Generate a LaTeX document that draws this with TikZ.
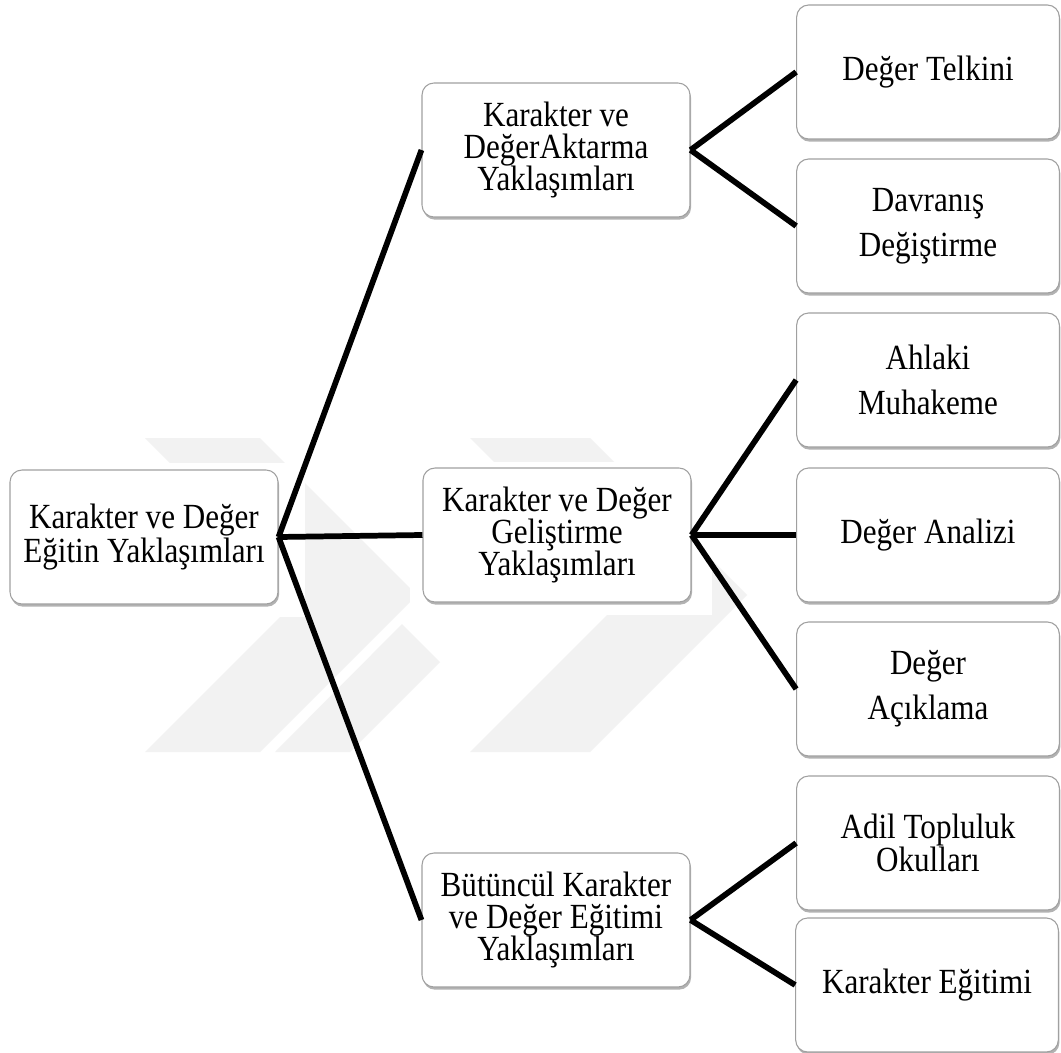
\documentclass[tikz,border=0pt]{standalone}
\usepackage{fontspec}
\setmainfont{Liberation Serif}
\newfontfamily\boxfont{Liberation Serif}[FakeStretch=0.88]
\usetikzlibrary{shadows}
\definecolor{boxgray}{HTML}{A0A0A0}
\definecolor{wmgray}{HTML}{F2F2F2}
\begin{document}
\begin{tikzpicture}[x=0.75pt,y=-0.75pt,
  box/.style={draw=boxgray, line width=0.8pt, rounded corners=9pt, fill=white,
    drop shadow={shadow xshift=0.8pt,shadow yshift=-2pt,opacity=0.3,fill=black},
    align=center, inner sep=0pt, font=\boxfont\fontsize{26.5pt}{24.3pt}\selectfont},
  midbox/.style={box, minimum width=201pt, minimum height=100.5pt},
  leafbox/.style={box, minimum width=197pt, minimum height=100.5pt},
  link/.style={line width=4.3pt, black},
  wm/.style={fill=wmgray, draw=none},
  blank/.style={fill=white, draw=none}]
\useasboundingbox (0,0) rectangle (1061,1053);
\fill[white] (0,0) rectangle (1061,1053);
% watermark
\fill[wm] (145,438) -- (260,438) -- (417,595) -- (260,752) -- (145,752) -- (302,595) -- cycle;
\fill[wm] (470,438) -- (590,438) -- (747,595) -- (590,752) -- (470,752) -- (627,595) -- cycle;
\fill[wm] (275,752) -- (350,752) -- (440,662) -- (402,624) -- cycle;
\fill[blank] (0,463) rectangle (305,617);
\fill[blank] (410,462) rectangle (712,615);
% nodes
\node[midbox, font=\boxfont\fontsize{26.5pt}{20pt}\selectfont] (root) at (144,537) {Karakter ve Değer\\Eğitin Yaklaşımları};
\node[midbox] (m1) at (556,150) {Karakter ve\\DeğerAktarma\\Yaklaşımları};
\node[midbox] (m2) at (557,535) {Karakter ve Değer\\Geliştirme\\Yaklaşımları};
\node[midbox] (m3) at (556,920) {Bütüncül Karakter\\ve Değer Eğitimi\\Yaklaşımları};
\node[leafbox] (r1) at (928,72) {Değer Telkini};
\node[leafbox, font=\boxfont\fontsize{26.5pt}{33.75pt}\selectfont] (r2) at (928,226) {Davranış\\Değiştirme};
\node[leafbox, font=\boxfont\fontsize{26.5pt}{33.75pt}\selectfont] (r3) at (928,380) {Ahlaki\\Muhakeme};
\node[leafbox] (r4) at (928,535) {Değer Analizi};
\node[leafbox, font=\boxfont\fontsize{26.5pt}{33.75pt}\selectfont] (r5) at (928,689) {Değer\\Açıklama};
\node[leafbox, font=\boxfont\fontsize{26.5pt}{25pt}\selectfont] (r6) at (928,843) {Adil Topluluk\\Okulları};
\node[leafbox] (r7) at (927,985) {Karakter Eğitimi};
% connectors
\draw[link] (root.east) -- (m1.west);
\draw[link] (root.east) -- (m2.west);
\draw[link] (root.east) -- (m3.west);
\draw[link] (m1.east) -- (r1.west);
\draw[link] (m1.east) -- (r2.west);
\draw[link] (m2.east) -- (r3.west);
\draw[link] (m2.east) -- (r4.west);
\draw[link] (m2.east) -- (r5.west);
\draw[link] (m3.east) -- (r6.west);
\draw[link] (m3.east) -- (r7.west);
\end{tikzpicture}
\end{document}
